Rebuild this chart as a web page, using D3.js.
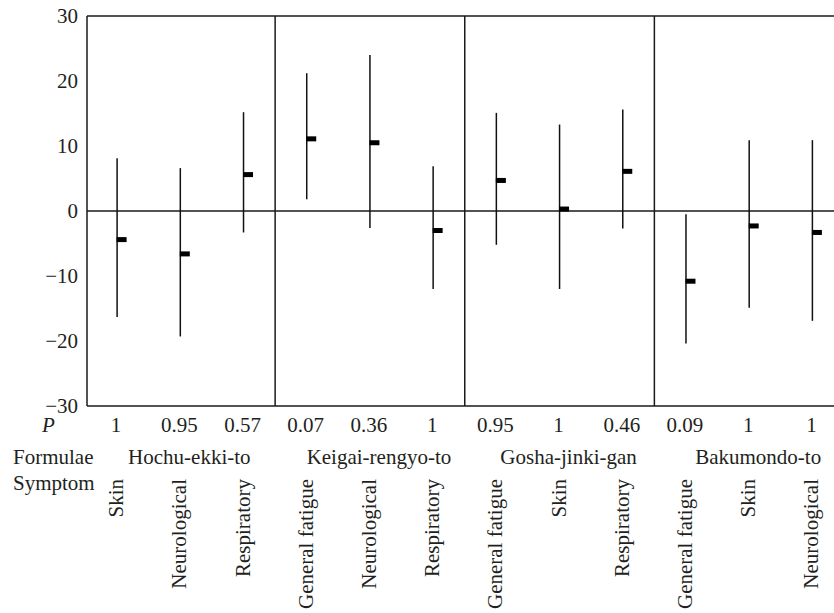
<!DOCTYPE html>
<html>
<head>
<meta charset="utf-8">
<script src="https://cdn.jsdelivr.net/npm/d3@7"></script>
<style>
  body { margin: 0; background: #fff; }
  svg text { font-family: "Liberation Serif", "DejaVu Serif", serif; fill: #231f20; }
</style>
</head>
<body>
<div id="chart"></div>
<script>
// Data
const formulae = ["Hochu-ekki-to", "Keigai-rengyo-to", "Gosha-jinki-gan", "Bakumondo-to"];
const symptoms = ["Skin", "Neurological", "Respiratory",
  "General fatigue", "Neurological", "Respiratory",
  "General fatigue", "Skin", "Respiratory",
  "General fatigue", "Skin", "Neurological"];
const groupIndex = [0, 0, 0, 1, 1, 1, 2, 2, 2, 3, 3, 3];
const pValues = ["1", "0.95", "0.57", "0.07", "0.36", "1", "0.95", "1", "0.46", "0.09", "1", "1"];
const means = [-4.4, -6.6, 5.6, 11.1, 10.5, -3.0, 4.7, 0.3, 6.1, -10.8, -2.3, -3.3];
const lower = [-16.3, -19.3, -3.3, 1.8, -2.6, -12.0, -5.2, -12.0, -2.7, -20.4, -14.9, -16.9];
const upper = [8.1, 6.6, 15.2, 21.2, 24.0, 6.9, 15.1, 13.3, 15.6, -0.5, 10.9, 10.9];
const yTicks = [30, 20, 10, 0, -10, -20, -30];

const W = 834, H = 613;
const plotLeft = 87, plotTop = 16, plotBottom = 406, plotRight = 844;
const fontSize = 21;

const svg = d3.select("#chart").append("svg")
  .attr("width", W).attr("height", H);

// Scales
const x = d3.scaleBand()
  .domain(d3.range(symptoms.length))
  .range([85.5, 844])
  .padding(0);
const cx = (i) => x(i) + x.bandwidth() / 2;

const y = d3.scaleLinear().domain([-30, 30]).range([plotBottom, plotTop]);

// Frame
const frame = svg.append("g").attr("stroke", "#1a1a1a").attr("stroke-width", 1.5);
frame.append("line").attr("x1", plotLeft).attr("x2", plotRight).attr("y1", plotTop).attr("y2", plotTop);
frame.append("line").attr("x1", plotLeft).attr("x2", plotRight).attr("y1", plotBottom).attr("y2", plotBottom);
frame.append("line").attr("x1", plotLeft).attr("x2", plotLeft).attr("y1", plotTop).attr("y2", plotBottom);
frame.append("line").attr("x1", plotLeft).attr("x2", plotRight).attr("y1", y(0)).attr("y2", y(0));

// Group dividers
frame.selectAll(".divider")
  .data([3, 6, 9])
  .enter()
  .append("line")
  .attr("class", "divider")
  .attr("x1", (d) => x(d)).attr("x2", (d) => x(d))
  .attr("y1", plotTop).attr("y2", plotBottom);

// Y axis labels
const yAxis = svg.append("g")
  .attr("transform", "translate(" + plotLeft + ",0)")
  .call(d3.axisLeft(y).tickValues(yTicks).tickSize(0).tickPadding(9));
yAxis.select(".domain").remove();
yAxis.selectAll("text")
  .attr("font-size", fontSize)
  .attr("fill", "#231f20");

// Error bars
svg.selectAll(".err")
  .data(d3.range(symptoms.length))
  .enter()
  .append("line")
  .attr("class", "err")
  .attr("x1", (i) => cx(i)).attr("x2", (i) => cx(i))
  .attr("y1", (i) => y(upper[i])).attr("y2", (i) => y(lower[i]))
  .attr("stroke", "#111")
  .attr("stroke-width", 1.5);

// Mean markers
svg.selectAll(".mean")
  .data(d3.range(symptoms.length))
  .enter()
  .append("rect")
  .attr("class", "mean")
  .attr("x", (i) => cx(i) - 0.5)
  .attr("y", (i) => y(means[i]) - 2.5)
  .attr("width", 10)
  .attr("height", 5)
  .attr("fill", "#000");

// P row
svg.append("text")
  .attr("x", 42).attr("y", 432)
  .attr("font-size", fontSize).attr("font-style", "italic")
  .text("P");
svg.selectAll(".pval")
  .data(pValues)
  .enter()
  .append("text")
  .attr("class", "pval")
  .attr("x", (d, i) => cx(i) - 1)
  .attr("y", 432)
  .attr("font-size", fontSize)
  .attr("text-anchor", "middle")
  .text((d) => d);

// Formulae row
svg.append("text").attr("x", 13).attr("y", 464).attr("font-size", fontSize).text("Formulae");
svg.selectAll(".formula")
  .data(formulae)
  .enter()
  .append("text")
  .attr("class", "formula")
  .attr("x", (d, g) => cx(g * 3 + 1) + 9)
  .attr("y", 464)
  .attr("font-size", fontSize)
  .attr("text-anchor", "middle")
  .text((d) => d);

// Symptom row
svg.append("text").attr("x", 13).attr("y", 490).attr("font-size", fontSize).text("Symptom");
svg.selectAll(".symptom")
  .data(symptoms)
  .enter()
  .append("text")
  .attr("class", "symptom")
  .attr("transform", (d, i) => "translate(" + (cx(i) + 6) + ",479) rotate(-90)")
  .attr("font-size", fontSize)
  .attr("text-anchor", "end")
  .text((d) => d);
</script>
</body>
</html>
